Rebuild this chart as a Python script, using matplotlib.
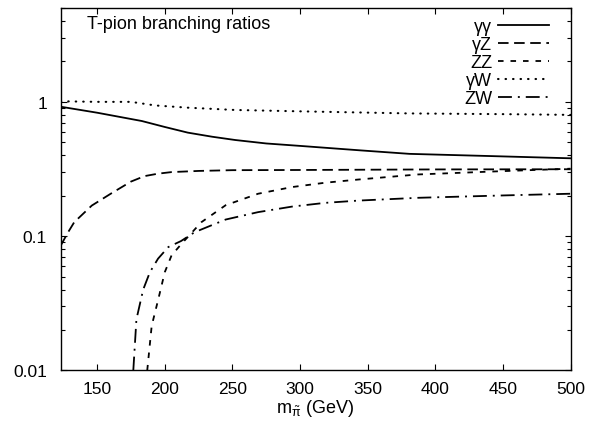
import matplotlib
matplotlib.use('Agg')
import matplotlib.pyplot as plt
import numpy as np

# T-pion branching ratios vs mass (GeV)
m_aa = [123, 150, 183, 200, 217, 235, 252, 275, 300, 345, 381, 440, 500]
br_aa = [0.92, 0.83, 0.72, 0.65, 0.59, 0.55, 0.52, 0.49, 0.47, 0.435, 0.41, 0.395, 0.38]

m_az = [123, 128, 133, 146, 160, 175, 185, 195, 205, 225, 250, 300, 400, 500]
br_az = [0.085, 0.105, 0.127, 0.169, 0.207, 0.255, 0.280, 0.292, 0.300, 0.306, 0.31,
         0.311, 0.314, 0.315]

m_zz = [187, 190.3, 195.2, 200, 205, 212.5, 227, 245, 269, 294, 318.5, 343, 387, 450, 500]
br_zz = [0.01, 0.0215, 0.034, 0.054, 0.072, 0.088, 0.127, 0.17, 0.207, 0.232, 0.25,
         0.264, 0.288, 0.305, 0.318]

m_aw = [123, 150, 175, 193, 217, 252, 300, 381, 450, 500]
br_aw = [1.01, 1.0, 1.0, 0.94, 0.905, 0.87, 0.85, 0.82, 0.81, 0.80]

m_zw = [176.7, 179, 184, 189, 195, 202.6, 212, 222, 235, 245, 269, 294, 318.5, 343, 387,
        450, 500]
br_zw = [0.01, 0.024, 0.040, 0.054, 0.068, 0.083, 0.092, 0.107, 0.121, 0.133, 0.151,
         0.166, 0.177, 0.184, 0.193, 0.201, 0.207]

plt.rcParams['font.family'] = ['Liberation Sans', 'DejaVu Sans']
plt.rcParams['mathtext.fontset'] = 'custom'
plt.rcParams['mathtext.rm'] = 'Liberation Sans'
plt.rcParams['mathtext.it'] = 'Liberation Sans'
plt.rcParams['lines.scale_dashes'] = False

fig = plt.figure(figsize=(5.92, 4.27), dpi=100)
ax = fig.add_axes([0.1025, 0.130, 0.8612, 0.849])

lw = 1.3
ax.plot(m_aa, br_aa, color='black', lw=lw, ls='-', label='γγ')
ax.plot(m_az, br_az, color='black', lw=lw, ls=(0, (7.6, 4.0)), label='γZ')
ax.plot(m_zz, br_zz, color='black', lw=lw, ls=(0, (4.0, 5.0)), label='ZZ')
ax.plot(m_aw, br_aw, color='black', lw=1.5, ls=(0, (0.4, 5.0)),
        dash_capstyle='round', label='γW')
ax.plot(m_zw, br_zw, color='black', lw=lw, ls=(0, (10.0, 4.3, 1.4, 4.3)), label='ZW')

ax.set_yscale('log')
ax.set_xlim(123, 500)
ax.set_ylim(0.01, 5)
ax.set_xticks([150, 200, 250, 300, 350, 400, 450, 500])
ax.set_yticks([0.01, 0.1, 1])
ax.set_yticklabels(['0.01', '0.1', '1'])
ax.tick_params(axis='both', which='major', direction='in', length=4.3, width=0.8,
               top=True, right=True, labelsize=12.5)
ax.tick_params(axis='x', pad=7.3)
ax.tick_params(axis='y', pad=9.9)
ax.tick_params(axis='y', which='minor', direction='in', length=2.8, width=0.8,
               left=True, right=True)
ax.tick_params(axis='x', which='minor', bottom=False, top=False)
for s in ax.spines.values():
    s.set_linewidth(1.0)

ax.set_xlabel(r'm$_{\tilde{\pi}}$ (GeV)', fontsize=13, labelpad=1)

ax.text(0.052, 0.944, 'T-pion branching ratios', transform=ax.transAxes,
        fontsize=13, ha='left', va='baseline')

leg = ax.legend(loc='upper right', bbox_to_anchor=(0.958, 0.971), frameon=False,
                markerfirst=False, fontsize=13, handlelength=2.85, handletextpad=0.3,
                labelspacing=0.05, borderpad=0, borderaxespad=0)

plt.savefig('out.png', dpi=100)
